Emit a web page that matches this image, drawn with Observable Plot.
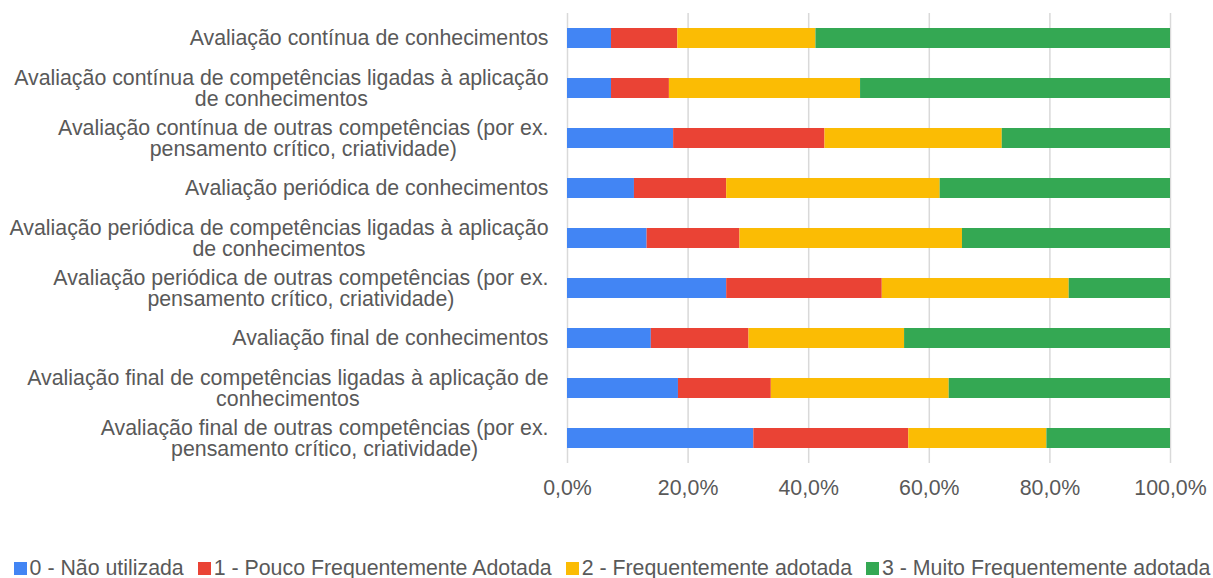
<!DOCTYPE html>
<html>
<head>
<meta charset="utf-8">
<script src="https://cdn.jsdelivr.net/npm/d3@7"></script>
<script src="https://cdn.jsdelivr.net/npm/@observablehq/plot@0.6"></script>
<style>
  html, body { margin: 0; padding: 0; background: #fff; }
  #chart { width: 1213px; }
  .legend { display: flex; justify-content: center; align-items: center; margin-top: 46px; padding-left: 11px;
    font-family: "Liberation Sans", Arial, sans-serif; font-size: 21.33px; color: #595959; line-height: 24px; white-space: nowrap; }
  .legend .item { display: flex; align-items: center; margin: 0 7px; }
  .legend .sw { width: 13px; height: 13px; margin-right: 3px; }
</style>
</head>
<body>
<div id="chart"></div>
<script>
const categories = [
  "Avaliação contínua de conhecimentos",
  "Avaliação contínua de competências ligadas à aplicação\nde conhecimentos",
  "Avaliação contínua de outras competências (por ex.\npensamento crítico, criatividade)",
  "Avaliação periódica de conhecimentos",
  "Avaliação periódica de competências ligadas à aplicação\nde conhecimentos",
  "Avaliação periódica de outras competências (por ex.\npensamento crítico, criatividade)",
  "Avaliação final de conhecimentos",
  "Avaliação final de competências ligadas à aplicação de\nconhecimentos",
  "Avaliação final de outras competências (por ex.\npensamento crítico, criatividade)"
];
const seriesNames = [
  "0 - Não utilizada",
  "1 - Pouco Frequentemente Adotada",
  "2 - Frequentemente adotada",
  "3 - Muito Frequentemente adotada"
];
const naoUtilizada = [7.3, 7.3, 17.6, 11.1, 13.2, 26.4, 13.9, 18.4, 30.9];
const poucoFrequente = [11.0, 9.6, 25.1, 15.3, 15.4, 25.8, 16.2, 15.4, 25.7];
const frequente = [22.9, 31.7, 29.4, 35.4, 36.9, 31.0, 25.8, 29.5, 22.9];
const muitoFrequente = [58.8, 51.4, 27.9, 38.2, 34.5, 16.8, 44.1, 36.7, 20.5];
const xTicks = [0, 20, 40, 60, 80, 100];
const colors = ["#4285F4", "#EA4335", "#FBBC04", "#34A853"];

const seriesValues = [naoUtilizada, poucoFrequente, frequente, muitoFrequente];
const data = [];
categories.forEach((c, i) => {
  seriesNames.forEach((s, j) => data.push({cat: c, series: s, value: seriesValues[j][i]}));
});

const FONT = "'Liberation Sans', Arial, sans-serif";
const FS = 21.33;
const textColor = "#595959";
const ctx = document.createElement("canvas").getContext("2d");
ctx.font = `${FS}px ${FONT}`;
const gap = 19;

const labelMarks = categories.map(c => {
  const w = d3.max(c.split("\n"), l => ctx.measureText(l).width);
  return Plot.text([c], {
    y: d => d, text: d => d, frameAnchor: "left", textAnchor: "middle",
    dx: -(gap + w / 2), lineHeight: 1.02, fontSize: FS, fill: textColor
  });
});

const chart = Plot.plot({
  width: 1213,
  height: 510,
  marginLeft: 567,
  marginRight: 43,
  marginTop: 13,
  marginBottom: 47,
  style: {fontFamily: FONT, fontSize: FS + "px", color: textColor, background: "#fff"},
  x: {domain: [0, 100]},
  y: {domain: categories, paddingInner: 0.6, paddingOuter: 0.3, axis: null},
  color: {domain: seriesNames, range: colors},
  marks: [
    Plot.gridX(xTicks, {stroke: "#d9d9d9", strokeOpacity: 1, strokeWidth: 1.5}),
    Plot.barX(data, Plot.stackX({x: "value", y: "cat", fill: "series", order: seriesNames, inset: 0})),
    Plot.axisX({ticks: xTicks, tickSize: 0, tickPadding: 16, fontSize: FS, fill: textColor,
      tickFormat: d => d.toFixed(1).replace(".", ",") + "%", label: null}),
    ...labelMarks
  ]
});
document.getElementById("chart").appendChild(chart);

const legend = document.createElement("div");
legend.className = "legend";
seriesNames.forEach((s, i) => {
  const item = document.createElement("div");
  item.className = "item";
  const sw = document.createElement("span");
  sw.className = "sw";
  sw.style.background = colors[i];
  const t = document.createElement("span");
  t.textContent = s;
  item.appendChild(sw); item.appendChild(t);
  legend.appendChild(item);
});
document.getElementById("chart").appendChild(legend);
</script>
</body>
</html>
